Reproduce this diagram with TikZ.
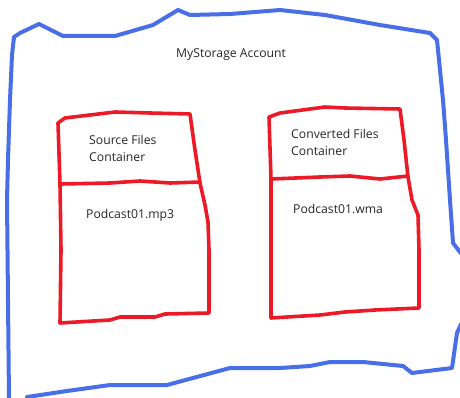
\documentclass[tikz,border=0pt]{standalone}
\usepackage{fontspec}
\setmainfont{Open Sans}
\definecolor{penblue}{RGB}{72,110,232}
\definecolor{penred}{RGB}{236,26,38}
\tikzset{
  account/.style={draw=penblue, line width=4pt, line join=round, line cap=round},
  container/.style={draw=penred, line width=3.6pt, line join=round, line cap=round},
  label/.style={inner sep=0pt, font=\fontsize{12.2}{17}\selectfont, text=black!85, align=left}
}
\begin{document}
\begin{tikzpicture}[x=1pt,y=-1pt]
  \useasboundingbox (0,0) rectangle (460,398);
  \draw [account] (9,400) -- (8,300) -- (7,200) -- (8,160) -- (10,100) -- (12,55)
    -- (14,37) -- (20,33) -- (39,24) -- (63,36) -- (115,36) -- (153,25) -- (178,10)
    -- (190,15) -- (230,14) -- (280,10) -- (325,15) -- (380,25) -- (430,33) -- (437,40)
    -- (443,100) -- (446,140) -- (450,200) -- (453,243) -- (463,256) -- (463,320)
    -- (457,333) -- (452,368) -- (412,373) -- (403,366) -- (363,362)
    -- (330,362) -- (310,366) -- (280,368) -- (230,368) -- (167,385) -- (110,385)
    -- (67,391) -- (27,397);
  \begin{scope}[container]
    \draw (60,323) -- (61,250) -- (60,184) -- (58,123) -- (65,118) -- (115,112)
      -- (150,113) -- (190,114) -- (195,150) -- (200,183) -- (205,205) -- (208,222)
      -- (209,250) -- (209,313) -- (165,314) -- (155,317) -- (120,317) -- (110,320)
      -- cycle;
    \draw (61,184) -- (110,183) -- (140,181) -- (170,183) -- (200,182);
    \draw (271,318) -- (271,250) -- (271,179) -- (269,117) -- (280,113) -- (325,107)
      -- (345,108) -- (400,109) -- (404,140) -- (408,177) -- (412,200) -- (418,215)
      -- (419,250) -- (419,308) -- (375,310) -- (345,312) -- (320,315) -- cycle;
    \draw (271,179) -- (320,177) -- (350,176) -- (380,179) -- (408,176);
  \end{scope}
  \node [label, anchor=base west] (mystorage) at (176,58) {MyStorage Account};
  \node [label, anchor=north west] (srchead) at (89,135) {Source Files\\Container};
  \node [label, anchor=base west] (srcfile) at (86,218) {Podcast01.mp3};
  \node [label, anchor=north west] (convhead) at (291,129) {Converted Files\\Container};
  \node [label, anchor=base west] (convfile) at (293,213) {Podcast01.wma};
\end{tikzpicture}
\end{document}
